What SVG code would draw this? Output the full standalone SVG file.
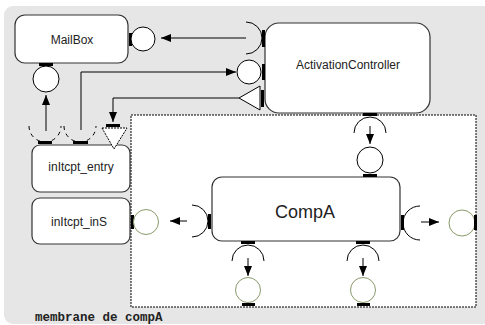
<svg xmlns="http://www.w3.org/2000/svg" width="485" height="325" viewBox="0 0 485 325">
<style>
.node{fill:#fff;stroke:#333;stroke-width:1.2}
.lbl{font-family:"Liberation Sans",Arial,sans-serif;font-size:12px;fill:#222;text-anchor:middle}
.bar{fill:#000}
.prov{fill:#fff;stroke:#000;stroke-width:1}
.provg{fill:#fff;stroke:#8a9a6a;stroke-width:1}
.req{fill:none;stroke:#000;stroke-width:1}
.reqd{fill:none;stroke:#000;stroke-width:1;stroke-dasharray:4,4}
.con{fill:none;stroke:#000;stroke-width:1}
</style>
<defs>
<marker id="ah" markerWidth="10" markerHeight="8" refX="10" refY="4" orient="auto" markerUnits="userSpaceOnUse">
<path d="M0,0 L10,4 L0,8 z" fill="#000"/>
</marker>
</defs>
<rect x="4" y="6" width="520" height="318" rx="9" fill="#e6e6e6"/>
<g id="membrane">
<rect x="131" y="115" width="345" height="192" fill="#fff" stroke="#000" stroke-width="1" stroke-dasharray="2,1"/>
<text x="35" y="321" font-family="'Liberation Mono','Courier New',monospace" font-size="12.5" font-weight="bold" fill="#222">membrane de compA</text>
</g>
<g id="MailBox">
<rect class="node" x="15" y="15" width="113" height="48" rx="10"/>
<text class="lbl" x="72" y="44">MailBox</text>
<rect class="bar" x="129" y="33" width="3" height="13"/>
<circle class="prov" cx="143" cy="39" r="12"/>
<rect class="bar" x="39" y="63" width="14" height="3"/>
<circle class="prov" cx="46" cy="79" r="13"/>
</g>
<g id="ActivationController">
<rect class="node" x="265" y="23" width="165" height="90" rx="14"/>
<text class="lbl" x="348" y="69">ActivationController</text>
<rect class="bar" x="262" y="30" width="3" height="17"/>
<path class="req" d="M246,22 A16,16 0 0,1 246,54"/>
<rect class="bar" x="262" y="64" width="3" height="16"/>
<circle class="prov" cx="249" cy="72" r="12"/>
<rect class="bar" x="261" y="90" width="3" height="17"/>
<polygon points="239,98 260,86 260,110" fill="#fff" stroke="#000" stroke-width="1"/>
<rect class="bar" x="363" y="113" width="14" height="3"/>
<path class="req" d="M354,133 A16,16 0 0,1 386,133"/>
</g>
<g id="inItcpt_entry">
<rect class="node" x="32" y="145" width="98" height="47" rx="8"/>
<text class="lbl" x="81" y="171">inItcpt_entry</text>
<rect class="bar" x="38" y="141" width="14" height="3"/>
<path class="reqd" d="M29,126 A16,16 0 0,0 61,126"/>
<rect class="bar" x="73" y="141" width="15" height="3"/>
<path class="reqd" d="M64,126 A16,16 0 0,0 96,126"/>
<rect class="bar" x="106" y="124" width="14" height="3"/>
<polygon points="102,128 127,128 114,149" fill="#fff" stroke="#000" stroke-width="1" stroke-dasharray="2,1"/>
</g>
<g id="inItcpt_inS">
<rect class="node" x="32" y="198" width="98" height="46" rx="8"/>
<text class="lbl" x="79" y="226">inItcpt_inS</text>
</g>
<g id="CompA">
<rect class="node" x="212" y="177" width="188" height="64" rx="10"/>
<text class="lbl" x="305" y="218" font-size="18" style="font-size:18px">CompA</text>
<rect class="bar" x="363" y="174" width="14" height="3"/>
<circle class="prov" cx="370" cy="160" r="13"/>
<rect class="bar" x="208" y="214" width="3" height="15"/>
<path class="req" d="M192,205 A16,16 0 0,1 192,237"/>
<rect class="bar" x="131" y="215" width="3" height="14"/>
<circle class="provg" cx="146" cy="222" r="12.5"/>
<rect class="bar" x="401" y="215" width="3" height="15"/>
<path class="req" d="M420,206 A17,17 0 0,0 420,240"/>
<circle class="provg" cx="462" cy="223" r="13"/>
<rect class="bar" x="474" y="215" width="3" height="15"/>
<rect class="bar" x="241" y="241" width="14" height="3"/>
<path class="req" d="M232,261 A16,16 0 0,1 264,261"/>
<circle class="provg" cx="248" cy="290" r="12.5"/>
<rect class="bar" x="242" y="303" width="13" height="3"/>
<rect class="bar" x="356" y="241" width="14" height="3"/>
<path class="req" d="M347,261 A16,16 0 0,1 379,261"/>
<circle class="provg" cx="363" cy="290" r="12.5"/>
<rect class="bar" x="357" y="303" width="13" height="3"/>
</g>
<g id="connectors">
<line class="con" x1="246" y1="38" x2="161" y2="38" marker-end="url(#ah)"/>
<polyline class="con" points="81,130 81,72 236,72" marker-end="url(#ah)"/>
<polyline class="con" points="239,98 113,98 113,122" marker-end="url(#ah)"/>
<line class="con" x1="46" y1="131" x2="46" y2="95" marker-end="url(#ah)"/>
<line class="con" x1="370" y1="126" x2="370" y2="144" marker-end="url(#ah)"/>
<line class="con" x1="187" y1="221" x2="170" y2="221" marker-end="url(#ah)"/>
<line class="con" x1="421" y1="222" x2="439" y2="222" marker-end="url(#ah)"/>
<line class="con" x1="248" y1="258" x2="248" y2="276" marker-end="url(#ah)"/>
<line class="con" x1="363" y1="258" x2="363" y2="276" marker-end="url(#ah)"/>
</g>
</svg>
